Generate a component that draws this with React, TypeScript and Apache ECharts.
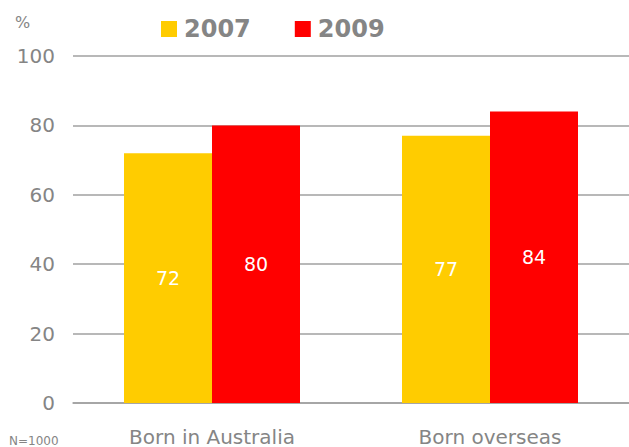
import React, { useEffect, useRef } from "react";
import * as echarts from "echarts";

const categories = ["Born in Australia", "Born overseas"];
const seriesNames = ["2007", "2009"];
const values2007 = [72, 77];
const values2009 = [80, 84];
const yTicks = { min: 0, max: 100, interval: 20 };

const FONT = "'DejaVu Sans', Verdana, sans-serif";
const GRAY = "#858585";

export default function App() {
  const ref = useRef<HTMLDivElement>(null);
  useEffect(() => {
    if (!ref.current) return;
    const chart = echarts.init(ref.current, undefined, { renderer: "svg" });
    const label = {
      show: true,
      position: "inside",
      color: "#ffffff",
      fontSize: 19,
      fontFamily: FONT,
    };
    chart.setOption({
      animation: false,
      textStyle: { fontFamily: FONT },
      legend: {
        top: 12,
        left: 156,
        itemWidth: 16,
        itemHeight: 16,
        itemGap: 44,
        icon: "rect",
        textStyle: { fontSize: 24, fontWeight: "bold", color: GRAY, fontFamily: FONT, padding: [0, 0, 0, 2] },
        data: seriesNames,
      },
      grid: { left: 73, right: 0, top: 56, bottom: 39, containLabel: false },
      xAxis: {
        type: "category",
        data: categories,
        axisLine: { show: true, lineStyle: { color: "#a0a0a0", width: 1.5 } },
        axisTick: { show: false },
        axisLabel: { color: GRAY, fontSize: 20, margin: 24, fontFamily: FONT },
      },
      yAxis: {
        type: "value",
        min: yTicks.min,
        max: yTicks.max,
        interval: yTicks.interval,
        axisLine: { show: false },
        axisTick: { show: false },
        axisLabel: { color: GRAY, fontSize: 20, margin: 18, fontFamily: FONT, padding: [4, 0, 0, 0] },
        splitLine: { lineStyle: { color: "#a0a0a0", width: 1.5 } },
      },
      graphic: [
        { type: "text", left: 15, top: 14, style: { text: "%", fontSize: 16, fill: GRAY, fontFamily: FONT } },
        { type: "text", left: 9, top: 435, style: { text: "N=1000", fontSize: 12, fill: GRAY, fontFamily: FONT } },
      ],
      series: [
        {
          name: seriesNames[0],
          type: "bar",
          data: values2007,
          barWidth: 88,
          barGap: "0%",
          itemStyle: { color: "#FFCC00" },
          label,
        },
        {
          name: seriesNames[1],
          type: "bar",
          data: values2009,
          barWidth: 88,
          barGap: "0%",
          itemStyle: { color: "#FF0000" },
          label,
        },
      ],
    });
    return () => chart.dispose();
  }, []);
  return <div ref={ref} style={{ width: 629, height: 447, position: "fixed", left: 0, top: 0, background: "#fff" }} />;
}
